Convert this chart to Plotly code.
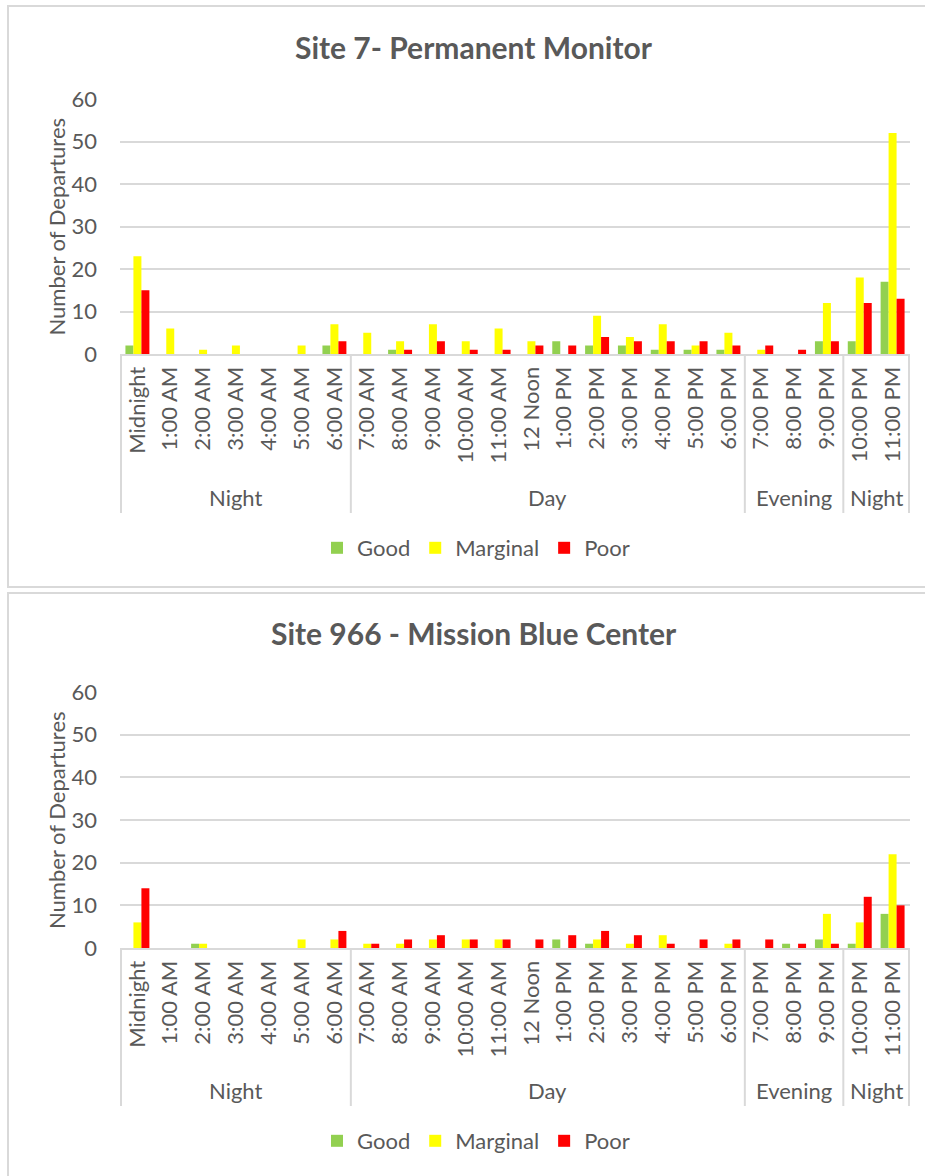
import plotly.graph_objects as go

# Hour-of-day categories and the time-of-day period each hour belongs to
hours = ["Midnight", "1:00 AM", "2:00 AM", "3:00 AM", "4:00 AM", "5:00 AM", "6:00 AM",
         "7:00 AM", "8:00 AM", "9:00 AM", "10:00 AM", "11:00 AM", "12 Noon", "1:00 PM",
         "2:00 PM", "3:00 PM", "4:00 PM", "5:00 PM", "6:00 PM", "7:00 PM", "8:00 PM",
         "9:00 PM", "10:00 PM", "11:00 PM"]
periods = ["Night", "Night", "Night", "Night", "Night", "Night", "Night",
           "Day", "Day", "Day", "Day", "Day", "Day", "Day",
           "Day", "Day", "Day", "Day", "Day", "Evening", "Evening",
           "Evening", "Night", "Night"]

# Site 7 - Permanent Monitor
site7_good = [2, 0, 0, 0, 0, 0, 2, 0, 1, 0, 0, 0, 0, 3, 2, 2, 1, 1, 1, 0, 0, 3, 3, 17]
site7_marginal = [23, 6, 1, 2, 0, 2, 7, 5, 3, 7, 3, 6, 3, 0, 9, 4, 7, 2, 5, 1, 0, 12, 18, 52]
site7_poor = [15, 0, 0, 0, 0, 0, 3, 0, 1, 3, 1, 1, 2, 2, 4, 3, 3, 3, 2, 2, 1, 3, 12, 13]

# Site 966 - Mission Blue Center
site966_good = [0, 0, 1, 0, 0, 0, 0, 0, 0, 0, 0, 0, 0, 2, 1, 0, 0, 0, 0, 0, 1, 2, 1, 8]
site966_marginal = [6, 0, 1, 0, 0, 2, 2, 1, 1, 2, 2, 2, 0, 0, 2, 1, 3, 0, 1, 0, 0, 8, 6, 22]
site966_poor = [14, 0, 0, 0, 0, 0, 4, 1, 2, 3, 2, 2, 2, 3, 4, 3, 1, 2, 2, 2, 1, 1, 12, 10]

series_names = ["Good", "Marginal", "Poor"]
series_colors = ["#92D050", "#FFFF00", "#FF0000"]

W, H = 925, 1176
FONT = "Lato"
TEXT = "#595959"
GRID = "#D9D9D9"


def py(px):
    """Convert a pixel row (from top) to paper y."""
    return 1 - px / H


def px_x(px):
    return px / W


panels = [
    dict(title="Site 7- Permanent Monitor",
         data=[site7_good, site7_marginal, site7_poor],
         top=99, bottom=354, title_y=47, group_y=497, div_bottom=513,
         legend_y=548, box=(6, 587), legend="legend"),
    dict(title="Site 966 - Mission Blue Center",
         data=[site966_good, site966_marginal, site966_poor],
         top=692, bottom=948, title_y=633, group_y=1090, div_bottom=1106,
         legend_y=1141, box=(593, 1190), legend="legend2"),
]

fig = go.Figure()
annotations = []
shapes = []
layout = {}

# contiguous runs of the same period -> group label spans
runs = []
start = 0
for i in range(1, len(periods) + 1):
    if i == len(periods) or periods[i] != periods[start]:
        runs.append((periods[start], start, i - 1))
        start = i

for k, p in enumerate(panels):
    sfx = "" if k == 0 else str(k + 1)
    xname, yname = "x" + sfx, "y" + sfx
    for name, color, vals in zip(series_names, series_colors, p["data"]):
        fig.add_trace(go.Bar(
            x=hours, y=vals, name=name, marker=dict(color=color, line=dict(width=0)),
            xaxis=xname, yaxis=yname, legend=p["legend"],
        ))

    layout["xaxis" + sfx] = dict(
        domain=[px_x(120), px_x(910)], anchor=yname, type="category",
        tickangle=-90, showline=True, linecolor=GRID, linewidth=2,
        showgrid=False, ticks="", ticklabelstandoff=2,
        tickfont=dict(family=FONT, size=22, color=TEXT), automargin=False,
    )
    layout["yaxis" + sfx] = dict(
        domain=[py(p["bottom"]), py(p["top"])], anchor=xname, range=[0, 60],
        dtick=10, showgrid=True, gridcolor=GRID, gridwidth=2, zeroline=False,
        showline=False, ticks="", ticklabelstandoff=22,
        tickfont=dict(family=FONT, size=22, color=TEXT), automargin=False,
    )

    # chart title
    annotations.append(dict(
        text="<b>" + p["title"] + "</b>", x=px_x(474), y=py(p["title_y"]),
        xref="paper", yref="paper", showarrow=False, xanchor="center", yanchor="middle",
        font=dict(family=FONT, size=30, color=TEXT),
    ))
    # y-axis title
    annotations.append(dict(
        text="Number of Departures", x=px_x(56), y=py((p["top"] + p["bottom"]) / 2),
        xref="paper", yref="paper", showarrow=False, textangle=-90,
        xanchor="center", yanchor="middle",
        font=dict(family=FONT, size=22, color=TEXT),
    ))
    # period group labels and dividers
    for label, a, b in runs:
        annotations.append(dict(
            text=label, x=(a + b) / 2, y=py(p["group_y"]), xref=xname, yref="paper",
            showarrow=False, xanchor="center", yanchor="middle",
            font=dict(family=FONT, size=22, color=TEXT),
        ))
    bounds = [runs[0][1] - 0.5] + [b + 0.5 for _, _, b in runs]
    for xb in bounds:
        shapes.append(dict(
            type="line", xref=xname, yref="paper", x0=xb, x1=xb,
            y0=py(p["bottom"]), y1=py(p["div_bottom"]),
            line=dict(color=GRID, width=2),
        ))
    # panel border
    shapes.append(dict(
        type="rect", xref="paper", yref="paper", x0=px_x(8), x1=px_x(960),
        y0=py(p["box"][1]), y1=py(p["box"][0]),
        line=dict(color=GRID, width=2), layer="below",
    ))
    layout[p["legend"]] = dict(
        orientation="h", x=px_x(476), y=py(p["legend_y"]), xanchor="center",
        yanchor="middle", font=dict(family=FONT, size=22, color=TEXT),
        bgcolor="rgba(0,0,0,0)", itemwidth=30, traceorder="normal",
    )

fig.update_layout(
    width=W, height=H, margin=dict(l=0, r=0, t=0, b=0),
    paper_bgcolor="white", plot_bgcolor="white",
    barmode="group", bargap=0.27, bargroupgap=0,
    showlegend=True, annotations=annotations, shapes=shapes,
    font=dict(family=FONT, color=TEXT),
    **layout,
)

fig.write_html("out.html")
